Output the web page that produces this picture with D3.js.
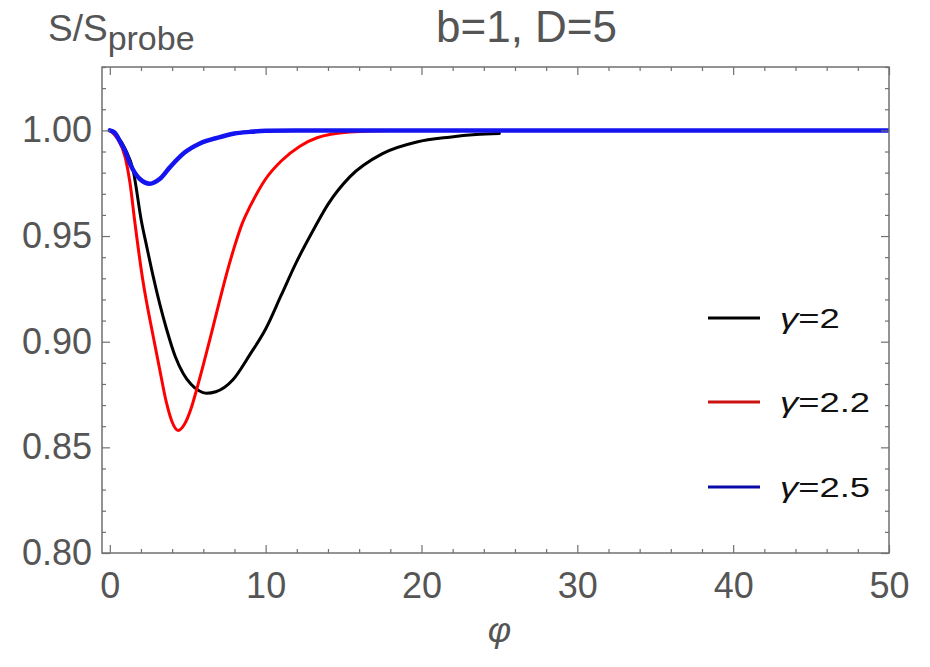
<!DOCTYPE html>
<html>
<head>
<meta charset="utf-8">
<script src="https://cdn.jsdelivr.net/npm/d3@7/dist/d3.min.js"></script>
<style>
  html, body { margin: 0; padding: 0; background: #fff; }
  svg { display: block; font-family: "Liberation Sans", Arial, Helvetica, sans-serif; }
</style>
</head>
<body>
<svg id="chart" width="930" height="667"></svg>
<script>
// Entanglement ratio S/S_probe versus phi for three values of gamma (b=1, D=5)
const seriesNames = ["γ=2", "γ=2.2", "γ=2.5"];
const lineColors = ["#000000", "#ff0000", "#1414f0"];
const legendColors = ["#000000", "#cc1111", "#0a0aa8"];

const phiG20 = [0, 0.5, 1, 1.5, 2.03, 2.4, 2.78, 3.2, 3.64, 4.2, 4.71, 5.2, 5.7, 6.2, 6.8, 7.9, 9, 10, 11, 12, 13, 14, 15.4, 17.5, 19.7, 21.8, 23.5, 25];
const sG20   = [1, 0.997, 0.991, 0.981, 0.957, 0.944, 0.931, 0.918, 0.906, 0.893, 0.885, 0.880, 0.8769, 0.8756, 0.8763, 0.882, 0.894, 0.906, 0.922, 0.938, 0.952, 0.965, 0.978, 0.989, 0.9945, 0.9968, 0.998, 0.9985];

const phiG22 = [0, 0.5, 1, 1.3, 1.6, 2.1, 2.8, 3.2, 3.64, 4, 4.39, 4.8, 5.2, 5.56, 6, 6.42, 7, 7.49, 8, 8.5, 9, 9.5, 10, 11, 12.2, 13.3, 15.4, 18, 25, 50];
const sG22   = [1, 0.996, 0.987, 0.975, 0.957, 0.93, 0.902, 0.887, 0.871, 0.862, 0.858, 0.861, 0.868, 0.877, 0.889, 0.901, 0.918, 0.932, 0.945, 0.956, 0.964, 0.971, 0.977, 0.9855, 0.9925, 0.9965, 0.9992, 1, 1, 1];

const phiG25 = [0, 0.3, 0.64, 1, 1.28, 1.6, 1.93, 2.57, 3.2, 3.85, 4.8, 5.78, 7.06, 8, 9, 10, 12, 25, 50];
const sG25   = [1, 0.999, 0.995, 0.99, 0.9845, 0.98, 0.977, 0.9748, 0.977, 0.9825, 0.9895, 0.9938, 0.9968, 0.9985, 0.9993, 0.9998, 1, 1, 1];

const xMajorTicks = [0, 10, 20, 30, 40, 50];
const yMajorTicks = [0.80, 0.85, 0.90, 0.95, 1.00];

const seriesX = [phiG20, phiG22, phiG25];
const seriesY = [sG20, sG22, sG25];

const svg = d3.select("#chart");
const plotLeft = 102, plotRight = 889, plotTop = 67, plotBottom = 553;

const x = d3.scaleLinear().domain([-0.5, 50]).range([plotLeft, plotRight]);
const y = d3.scaleLinear().domain([0.80, 1.03]).range([plotBottom, plotTop]);

const axisColor = "#707070";
const labelColor = "#555";

// plotting-area clip
svg.append("clipPath").attr("id", "plotClip")
  .append("rect").attr("x", plotLeft).attr("y", plotTop)
  .attr("width", plotRight - plotLeft).attr("height", plotBottom - plotTop);

// curves
const line = d3.line().curve(d3.curveMonotoneX)
  .x(d => x(d[0])).y(d => y(d[1]));

const widths = [3, 3, 4.5];
const curves = svg.append("g").attr("clip-path", "url(#plotClip)");
[0, 1, 2].forEach(i => {
  const pts = seriesX[i].map((v, k) => [v, seriesY[i][k]]);
  curves.append("path")
    .datum(pts)
    .attr("d", line)
    .attr("fill", "none")
    .attr("stroke", lineColors[i])
    .attr("stroke-width", widths[i])
    .attr("stroke-linejoin", "round")
    .attr("stroke-linecap", "round");
});

// frame
svg.append("rect")
  .attr("x", plotLeft).attr("y", plotTop)
  .attr("width", plotRight - plotLeft).attr("height", plotBottom - plotTop)
  .attr("fill", "none").attr("stroke", axisColor).attr("stroke-width", 1.5);

const xMinor = d3.range(0, 51, 2).filter(v => v % 10 !== 0);
const yMinor = d3.range(80, 104, 1).map(v => v / 100).filter(v => Math.round(v * 100) % 5 !== 0);

function styleAxis(g) {
  g.select(".domain").remove();
  g.selectAll(".tick line").attr("stroke", axisColor).attr("stroke-width", 1.2);
  g.selectAll(".tick text")
    .attr("fill", labelColor)
    .style("font-size", "36px");
}

// bottom axis
svg.append("g").attr("transform", `translate(0,${plotBottom})`)
  .call(d3.axisBottom(x).tickValues(xMajorTicks).tickSize(-8).tickPadding(19).tickFormat(d3.format("d")))
  .call(styleAxis);
svg.append("g").attr("transform", `translate(0,${plotBottom})`)
  .call(d3.axisBottom(x).tickValues(xMinor).tickSize(-4).tickFormat(""))
  .call(styleAxis);
// top axis
svg.append("g").attr("transform", `translate(0,${plotTop})`)
  .call(d3.axisTop(x).tickValues(xMajorTicks).tickSize(-8).tickFormat(""))
  .call(styleAxis);
svg.append("g").attr("transform", `translate(0,${plotTop})`)
  .call(d3.axisTop(x).tickValues(xMinor).tickSize(-4).tickFormat(""))
  .call(styleAxis);
// left axis
svg.append("g").attr("transform", `translate(${plotLeft},0)`)
  .call(d3.axisLeft(y).tickValues(yMajorTicks).tickSize(-8).tickPadding(10).tickFormat(d3.format(".2f")))
  .call(styleAxis);
svg.append("g").attr("transform", `translate(${plotLeft},0)`)
  .call(d3.axisLeft(y).tickValues(yMinor).tickSize(-4).tickFormat(""))
  .call(styleAxis);
// right axis
svg.append("g").attr("transform", `translate(${plotRight},0)`)
  .call(d3.axisRight(y).tickValues(yMajorTicks).tickSize(-8).tickFormat(""))
  .call(styleAxis);
svg.append("g").attr("transform", `translate(${plotRight},0)`)
  .call(d3.axisRight(y).tickValues(yMinor).tickSize(-4).tickFormat(""))
  .call(styleAxis);

// axis title
svg.append("text")
  .attr("x", x(25)).attr("y", 642)
  .attr("text-anchor", "middle")
  .attr("fill", labelColor)
  .style("font-size", "36px").style("font-style", "italic")
  .text("φ");

// y label: S/S_probe
const yl = svg.append("text").attr("x", 48).attr("y", 41)
  .attr("fill", labelColor).style("font-size", "37px");
yl.append("tspan").text("S/S");
yl.append("tspan").attr("dy", 9).style("font-size", "34px").text("probe");

// plot label
svg.append("text")
  .attr("x", 436).attr("y", 42)
  .attr("text-anchor", "start")
  .attr("fill", labelColor)
  .style("font-size", "44px")
  .text("b=1, D=5");

// legend
const legendY = [318, 402, 487];
const legend = svg.append("g");
seriesNames.forEach((name, i) => {
  legend.append("line")
    .attr("x1", 708).attr("x2", 760)
    .attr("y1", legendY[i]).attr("y2", legendY[i])
    .attr("stroke", legendColors[i]).attr("stroke-width", 3);
  const t = legend.append("text")
    .attr("transform", `translate(780,${legendY[i] + 10}) scale(1.3,1)`)
    .attr("fill", "#111")
    .style("font-size", "28px");
  const parts = name.split("=");
  t.append("tspan").style("font-style", "italic").text(parts[0]);
  t.append("tspan").text("=" + parts[1]);
});
</script>
</body>
</html>
